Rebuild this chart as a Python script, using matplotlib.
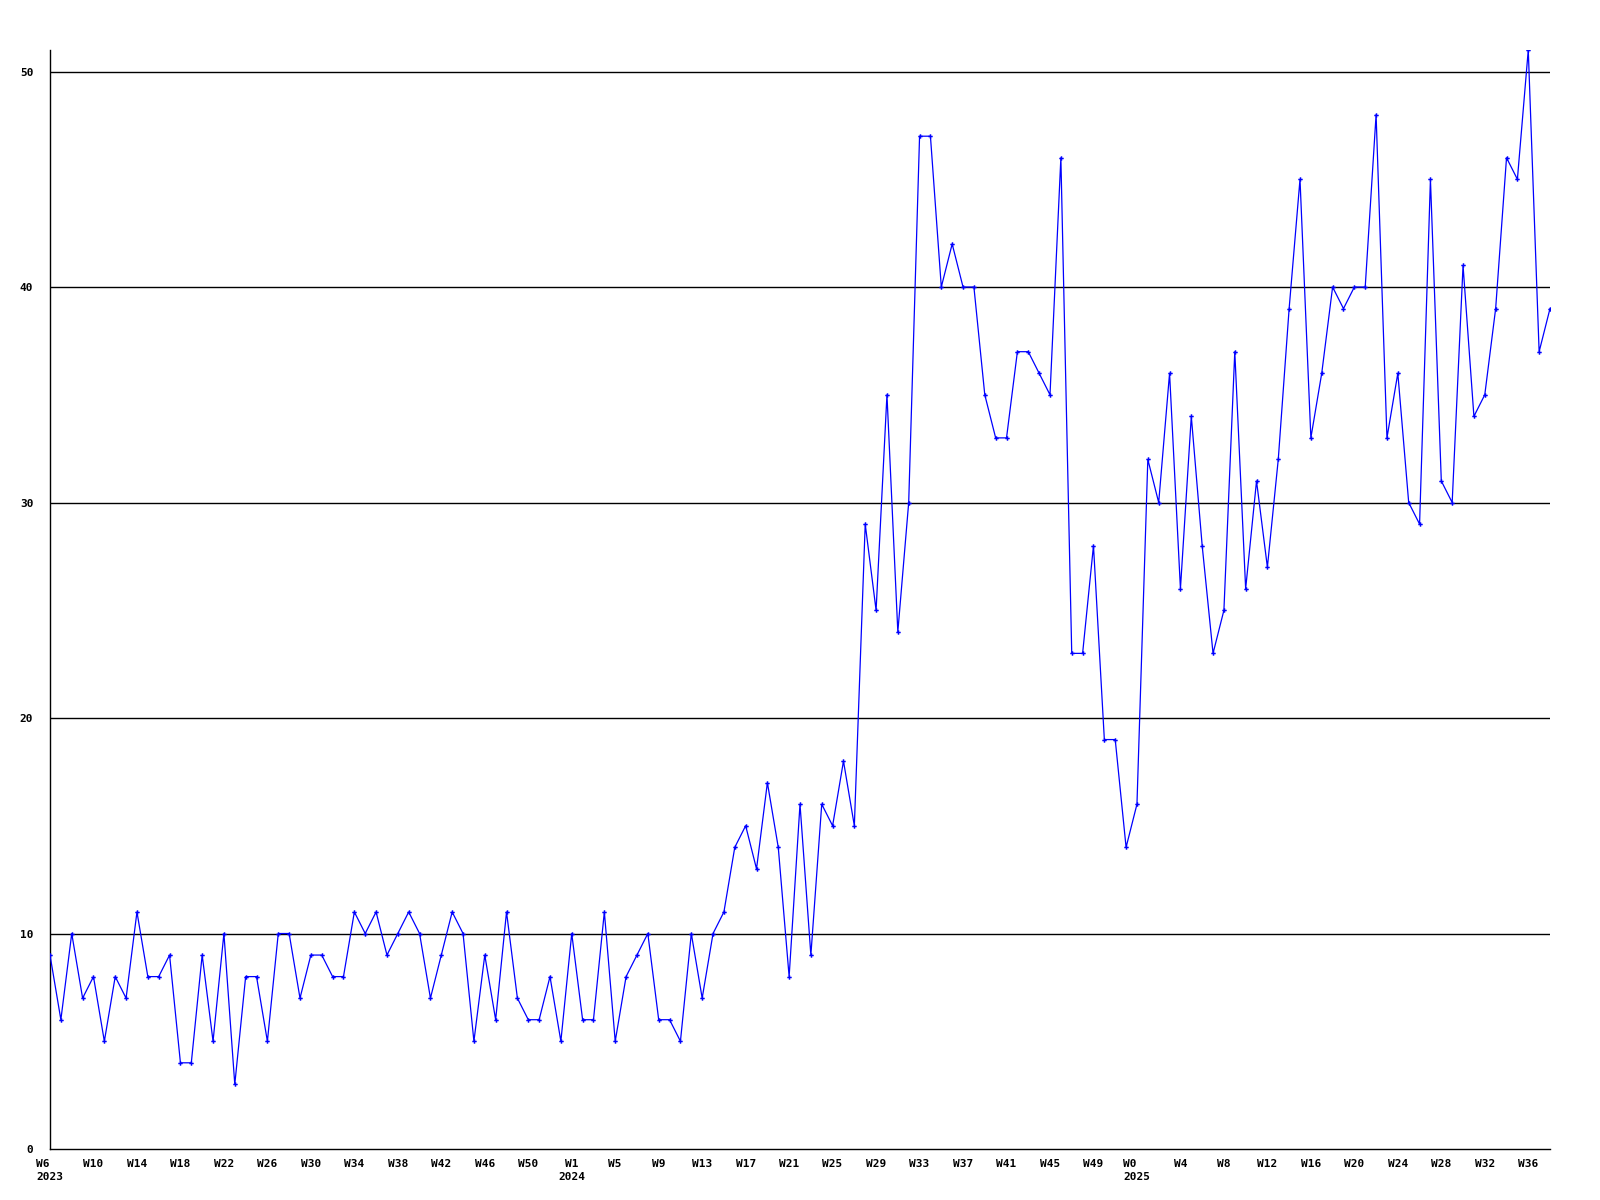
import numpy as np
import matplotlib.pyplot as plt

# weekly counts, from W6 2023 to W38 2025
values = [9, 6, 10, 7, 8, 5, 8, 7, 11, 8, 8, 9, 4, 4, 9, 5, 10, 3, 8, 8,
          5, 10, 10, 7, 9, 9, 8, 8, 11, 10, 11, 9, 10, 11, 10, 7, 9, 11, 10, 5,
          9, 6, 11, 7, 6, 6, 8, 5, 10, 6, 6, 11, 5, 8, 9, 10, 6, 6, 5, 10,
          7, 10, 11, 14, 15, 13, 17, 14, 8, 16, 9, 16, 15, 18, 15, 29, 25, 35, 24, 30,
          47, 47, 40, 42, 40, 40, 35, 33, 33, 37, 37, 36, 35, 46, 23, 23, 28, 19, 19, 14,
          16, 32, 30, 36, 26, 34, 28, 23, 25, 37, 26, 31, 27, 32, 39, 45, 33, 36, 40, 39,
          40, 40, 48, 33, 36, 30, 29, 45, 31, 30, 41, 34, 35, 39, 46, 45, 51, 37, 39]

# x labels every 4 weeks
week_labels = ['W6', 'W10', 'W14', 'W18', 'W22', 'W26', 'W30', 'W34', 'W38', 'W42', 'W46', 'W50',
               'W1', 'W5', 'W9', 'W13', 'W17', 'W21', 'W25', 'W29', 'W33', 'W37', 'W41', 'W45', 'W49',
               'W0', 'W4', 'W8', 'W12', 'W16', 'W20', 'W24', 'W28', 'W32', 'W36']
year_labels = {0: '2023', 12: '2024', 25: '2025'}

y_ticks = [0, 10, 20, 30, 40, 50]

x = np.arange(len(values))

fig = plt.figure(figsize=(16, 12), dpi=100)
ax = fig.add_axes([0.03125, 0.0425, 0.9375, 0.91583])

# griglia orizzontale nera
for t in y_ticks[1:]:
    ax.axhline(t, color='black', linewidth=1.0, zorder=1)

ax.plot(x, values, color='#0000ff', linewidth=0.9, marker='P', markersize=3.2,
        markeredgewidth=0, zorder=3)

ax.set_xlim(0, len(values) - 1)
ax.set_ylim(0, 51)

tick_pos = x[::4][:len(week_labels)]
labels = []
for i, w in enumerate(week_labels):
    if i in year_labels:
        labels.append(w + '\n' + year_labels[i])
    else:
        labels.append(w)
ax.set_xticks(tick_pos)
ax.set_xticklabels(labels, family='DejaVu Sans Mono', fontweight='bold', fontsize=8,
                   multialignment='left', linespacing=1.35)
# 2024 sta centrato sotto W1
ax.get_xticklabels()[12].set_multialignment('center')

ax.set_yticks(y_ticks)
ax.set_yticklabels([str(t) for t in y_ticks], family='DejaVu Sans Mono',
                   fontweight='bold', fontsize=8)
ax.tick_params(axis='both', length=0)
ax.tick_params(axis='x', pad=7)
ax.tick_params(axis='y', pad=12)

for side in ['top', 'right']:
    ax.spines[side].set_visible(False)
for side in ['left', 'bottom']:
    ax.spines[side].set_color('black')
    ax.spines[side].set_linewidth(1.0)

fig.savefig('out.png', dpi=100, facecolor='white')
